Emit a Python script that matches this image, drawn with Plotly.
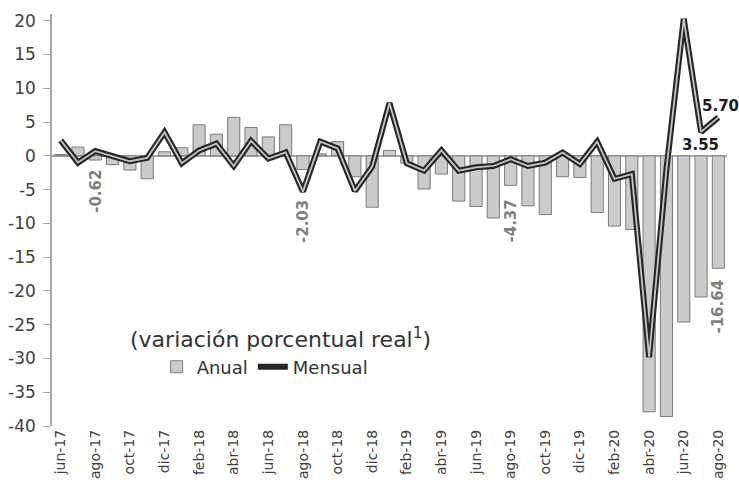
import plotly.graph_objects as go

meses = ["jun-17","jul-17","ago-17","sep-17","oct-17","nov-17","dic-17",
         "ene-18","feb-18","mar-18","abr-18","may-18","jun-18","jul-18","ago-18","sep-18","oct-18","nov-18","dic-18",
         "ene-19","feb-19","mar-19","abr-19","may-19","jun-19","jul-19","ago-19","sep-19","oct-19","nov-19","dic-19",
         "ene-20","feb-20","mar-20","abr-20","may-20","jun-20","jul-20","ago-20"]

anual = [0.2, 1.3, -0.62, -1.3, -2.1, -3.4, 0.6,
         1.2, 4.6, 3.2, 5.7, 4.2, 2.8, 4.6, -2.03, 0.3, 2.1, -3.1, -7.6,
         0.8, -1.1, -4.9, -2.7, -6.7, -7.5, -9.2, -4.37, -7.4, -8.7, -3.1, -3.2,
         -8.4, -10.4, -10.9, -37.9, -38.6, -24.6, -20.9, -16.64]

mensual = [2.3, -1.0, 0.7, -0.1, -0.8, -0.3, 3.5,
           -1.1, 0.8, 1.8, -1.5, 2.2, -0.4, 0.5, -5.3, 2.1, 1.1, -5.2, -1.6,
           7.8, -1.1, -2.2, 0.8, -2.2, -1.7, -1.5, -0.5, -1.5, -1.0, 0.5, -1.2,
           2.1, -3.4, -2.7, -29.8, -2.0, 20.3, 3.55, 5.70]

tick_labels = meses[::2]
ytick_vals = list(range(-40, 21, 5))
ytick_text = [str(v) for v in ytick_vals]

FONT = "DejaVu Sans"

fig = go.Figure()
fig.add_trace(go.Bar(
    x=meses, y=anual, name="Anual",
    marker=dict(color="#cbcbcb", line=dict(color="#7a7a7a", width=1)),
))
fig.add_trace(go.Scatter(
    x=meses, y=mensual, name="Mensual", mode="lines",
    line=dict(color="#262626", width=6),
))
fig.add_trace(go.Scatter(
    x=meses, y=mensual, name="Mensual", mode="lines", showlegend=False,
    line=dict(color="#c4c4c4", width=1.8), hoverinfo="skip",
))

# gray rotated labels for Anual (agosto)
gray_labels = [(2, 8), (14, 28), (26, 12), (38, 9)]
for idx, gap in gray_labels:
    fig.add_annotation(
        x=meses[idx], y=anual[idx], text=f"{anual[idx]:.2f}", textangle=-90,
        showarrow=False, xanchor="center", yanchor="top", yshift=-gap,
        font=dict(family=FONT, size=15, color="#7f7f7f", weight="bold"),
    )

# black labels for Mensual
fig.add_annotation(x=meses[37], y=mensual[37], text=f"{mensual[37]:.2f}",
                   showarrow=False, xanchor="center", yanchor="top", yshift=-2, xshift=-1,
                   font=dict(family=FONT, size=15, color="#1a1a1a", weight="bold"))
fig.add_annotation(x=meses[38], y=mensual[38], text=f"{mensual[38]:.2f}",
                   showarrow=False, xanchor="center", yanchor="bottom", yshift=0, xshift=2,
                   font=dict(family=FONT, size=15, color="#1a1a1a", weight="bold"))

fig.add_annotation(x=0.339, y=0.213, xref="paper", yref="paper",
                   text="(variación porcentual real<sup>1</sup>)", showarrow=False,
                   xanchor="center", yanchor="middle",
                   font=dict(family=FONT, size=22, color="#333333"))

fig.update_layout(
    width=739, height=492,
    margin=dict(l=52, r=12, t=14, b=66, autoexpand=False),
    paper_bgcolor="white", plot_bgcolor="white",
    bargap=0.3,
    font=dict(family=FONT, color="#404040"),
    showlegend=True,
    legend=dict(orientation="h", x=0.155, y=0.143, xanchor="left", yanchor="middle",
                font=dict(family=FONT, size=18, color="#333333"),
                bgcolor="rgba(0,0,0,0)", itemwidth=30),
    xaxis=dict(
        type="category", categoryorder="array", categoryarray=meses,
        tickmode="array", tickvals=tick_labels, ticktext=tick_labels,
        tickangle=-90, tickfont=dict(family=FONT, size=14, color="#404040"),
        showline=False, showgrid=False, zeroline=False, ticks="",
        range=[-0.5, len(meses) - 0.5], automargin=False,
    ),
    yaxis=dict(
        range=[-40, 21], tickmode="array", tickvals=ytick_vals, ticktext=ytick_text,
        tickfont=dict(family=FONT, size=17, color="#404040"),
        showline=True, linecolor="#a6a6a6", linewidth=1.5,
        ticks="outside", ticklen=7, tickcolor="#a6a6a6", ticklabelstandoff=4,
        showgrid=False, zeroline=True, zerolinecolor="#a6a6a6", zerolinewidth=1.5,
        automargin=False,
    ),
)

fig.write_html("out.html", config={"displayModeBar": False},
               post_script="document.body.style.margin='0px';")
